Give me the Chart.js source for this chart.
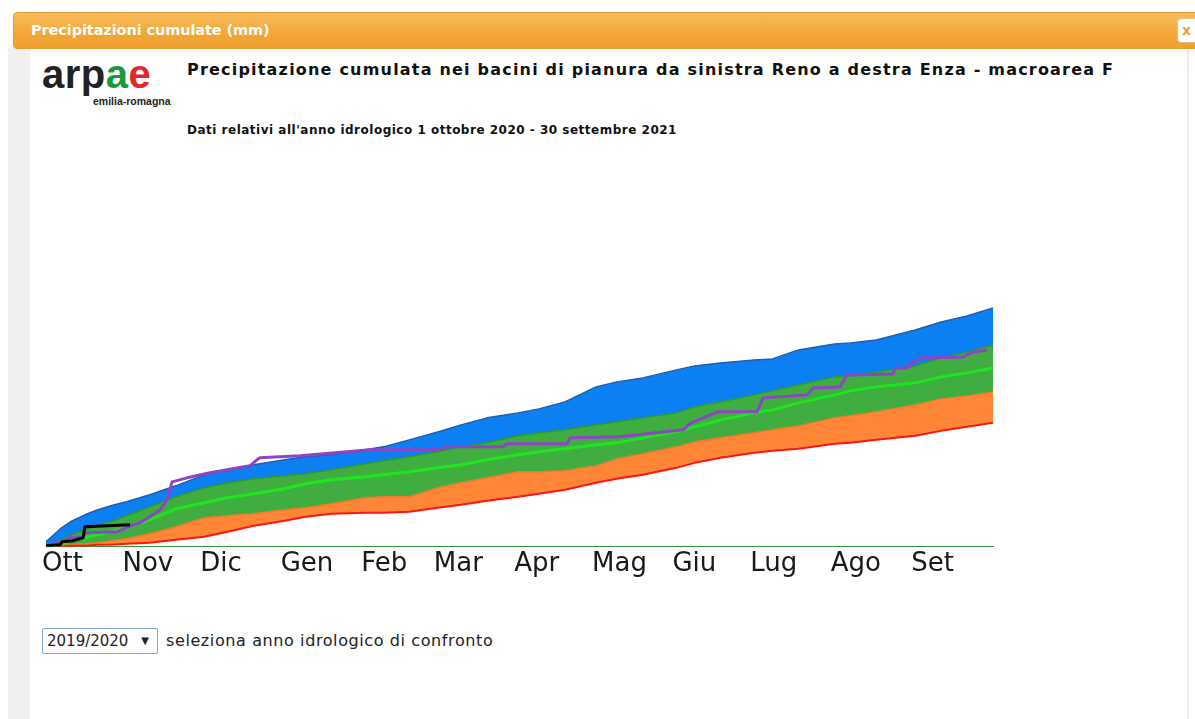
<!DOCTYPE html>
<html>
<head>
<meta charset="utf-8">
<script src="https://cdn.jsdelivr.net/npm/chart.js@4"></script>
<style>
  html, body { margin: 0; padding: 0; background: #fff; width: 1195px; height: 719px; overflow: hidden; }
  #leftstrip { position: absolute; left: 8px; top: 48px; width: 22px; height: 671px; background: #f0f0f0; }
  #rightline { position: absolute; left: 1187px; top: 48px; width: 2px; height: 671px; background: #eaeaea; }
  #header { position: absolute; left: 13px; top: 12px; width: 1200px; height: 37px;
    background: linear-gradient(#f8bd5c, #f2a636 60%, #f0a030); border: 1px solid #e39b33; border-radius: 4px;
    box-sizing: border-box; }
  #header span { position: absolute; left: 17px; top: 9px; color: #fff; font: bold 14.5px "DejaVu Sans", sans-serif; letter-spacing: -0.1px; }
  #close { position: absolute; left: 1177px; top: 18px; width: 22px; height: 25px; background: #fff; border-radius: 4px;
    border: 1px solid #e8c27a; box-sizing: border-box; color: #f0a030; font: bold 14px "DejaVu Sans", sans-serif; line-height: 23px; padding-left: 4px; }
  #logo { position: absolute; left: 42px; top: 52px; font: bold 40px "Liberation Sans", sans-serif; letter-spacing: 0.5px; color: #222; }
  #logo .g { color: #1a9a3a; } #logo .r { color: #e3262b; }
  #logosub { position: absolute; left: 93px; top: 95px; font: bold 10.5px "Liberation Sans", sans-serif; color: #222; }
  #title { position: absolute; left: 187px; top: 60px; font: bold 16px "DejaVu Sans", sans-serif; letter-spacing: 1.2px; color: #111; white-space: nowrap; }
  #subtitle { position: absolute; left: 187px; top: 123px; font: bold 12px "DejaVu Sans", sans-serif; letter-spacing: 0.5px; color: #111; white-space: nowrap; }
  #chartbox { position: absolute; left: 36px; top: 140px; width: 967px; height: 442px; }
  #sel { position: absolute; left: 42px; top: 628px; width: 116px; height: 26px; box-sizing: border-box;
    border: 1px solid #7fa6d6; border-radius: 2px; font: 15px "DejaVu Sans", sans-serif; color: #222; line-height: 24px; padding-left: 4px; }
  #sel .arr { position: absolute; right: 8px; top: 0; font-size: 10px; }
  #selLabel { position: absolute; left: 166px; top: 631px; font: 16px "DejaVu Sans", sans-serif; letter-spacing: 0.6px; color: #222; white-space: nowrap; }
</style>
</head>
<body>
<div id="leftstrip"></div>
<div id="rightline"></div>
<div id="header"><span>Precipitazioni cumulate (mm)</span></div>
<div id="close">x</div>
<div id="logo">arp<span class="g">a</span><span class="r">e</span></div>
<div id="logosub">emilia-romagna</div>
<div id="title">Precipitazione cumulata nei bacini di pianura da sinistra Reno a destra Enza - macroarea F</div>
<div id="subtitle">Dati relativi all'anno idrologico 1 ottobre 2020 - 30 settembre 2021</div>
<div id="chartbox"><canvas id="c"></canvas></div>
<div id="sel">2019/2020<span class="arr">&#9660;</span></div>
<div id="selLabel">seleziona anno idrologico di confronto</div>

<script>
// Day of hydrological year (0 = 1 Oct)
const monthLabels = ["Ott","Nov","Dic","Gen","Feb","Mar","Apr","Mag","Giu","Lug","Ago","Set"];
const monthStartDays = [0,31,61,92,123,151,182,212,243,273,304,335];

const days = [0,3,6,10,15,20,25,31,40,50,61,70,80,92,100,110,123,130,140,151,160,170,182,190,200,212,220,230,243,250,260,273,280,290,304,310,320,335,345,355,365];
// cumulative precipitation (mm) climatology bands
const upperMm  = [20,48,76,104,128,148,164,180,208,244,288,308,328,348,360,368,388,400,428,460,488,516,536,552,580,640,660,676,708,724,736,748,752,788,812,816,828,868,900,924,956];
const q75Mm    = [0,12,28,48,68,84,100,124,160,200,236,256,272,284,292,308,332,344,360,380,400,416,444,456,468,488,500,516,536,560,580,608,624,648,680,684,700,724,756,780,808];
const medianMm = [0,4,12,24,36,48,60,76,108,152,176,196,212,232,252,268,280,288,300,316,328,348,368,380,392,408,416,436,460,480,508,536,548,576,608,624,640,656,680,696,716];
const q25Mm    = [0,0,4,8,12,16,24,32,52,80,116,124,132,148,156,172,196,200,200,236,256,276,300,300,304,324,352,372,400,420,436,456,468,484,516,524,540,568,592,604,620];
const lowerMm  = [0,0,0,4,4,8,8,12,16,28,40,60,84,104,120,132,136,136,140,156,168,184,200,212,228,256,272,288,316,336,356,376,384,392,412,416,428,444,464,480,496];

// comparison year 2019/2020
const cmpDays = [0,1.5,5.4,9.3,14.3,15,27.4,31.6,36.2,41.2,44,46.6,48.6,54.4,63.2,78.6,81.3,82.5,98,125,150,154.6,176,177.7,200.8,202,221,245.6,248,256,258.7,274,276.4,293.4,295.7,306,308.8,326.5,327.3,332,333.8,337,353.5,355,357.4,362.8];
const cmpMm   = [0,8,16,36,40,56,60,80,96,128,148,188,260,276,296,324,348,356,364,388,388,400,400,412,412,436,440,468,492,528,540,540,596,608,636,640,688,692,716,716,736,756,760,768,780,788];

// current year 2020/2021
const curDays = [0,5.4,6.2,10.4,14.3,15,32.4];
const curMm   = [4,8,20,24,36,80,88];

const pts = (xs, ys) => xs.map((x, i) => ({x: x, y: ys[i]}));

const base = { pointRadius: 0, tension: 0, borderJoinStyle: 'round' };

new Chart(document.getElementById('c'), {
  type: 'line',
  data: {
    datasets: [
      Object.assign({}, base, { label: 'max', data: pts(days, upperMm), borderColor: '#1d5fb0', borderWidth: 1.5, backgroundColor: '#0c80f2', fill: '+1', order: 7 }),
      Object.assign({}, base, { label: '75', data: pts(days, q75Mm), borderColor: '#2e9a2e', borderWidth: 1.5, backgroundColor: '#40ad40', fill: '+1', order: 8 }),
      Object.assign({}, base, { label: '25', data: pts(days, q25Mm), borderColor: '#f07a28', borderWidth: 1.5, backgroundColor: '#ff8636', fill: '+1', order: 9 }),
      Object.assign({}, base, { label: 'min', data: pts(days, lowerMm), borderColor: '#ff1414', borderWidth: 2, fill: false, order: 6 }),
      Object.assign({}, base, { label: 'mediana', data: pts(days, medianMm), borderColor: '#1ee61e', borderWidth: 3, fill: false, order: 3 }),
      Object.assign({}, base, { label: '2019/2020', data: pts(cmpDays, cmpMm), borderColor: '#8e44c4', borderWidth: 3, fill: false, order: 2 }),
      Object.assign({}, base, { label: '2020/2021', data: pts(curDays, curMm), borderColor: '#000000', borderWidth: 3, fill: false, order: 1 })
    ]
  },
  options: {
    responsive: true,
    maintainAspectRatio: false,
    animation: false,
    layout: { padding: { left: 10, right: 10, top: 7, bottom: 0 } },
    plugins: { legend: { display: false }, tooltip: { enabled: false }, title: { display: false },
      filler: { drawTime: 'beforeDatasetsDraw' } },
    scales: {
      x: {
        type: 'linear', min: 0, max: 365,
        afterBuildTicks: (s) => { s.ticks = monthStartDays.map(v => ({ value: v })); },
        grid: { display: false, drawTicks: false },
        border: { display: true, color: '#3a9a3a', width: 1 },
        ticks: {
          autoSkip: false, maxRotation: 0, align: 'start', labelOffset: -4, padding: 2,
          color: '#1a1a1a', font: { family: 'DejaVu Sans', size: 26 },
          callback: (v) => monthLabels[monthStartDays.indexOf(v)]
        }
      },
      y: { display: false, min: 0, max: 1600 }
    }
  }
});
</script>
</body>
</html>
